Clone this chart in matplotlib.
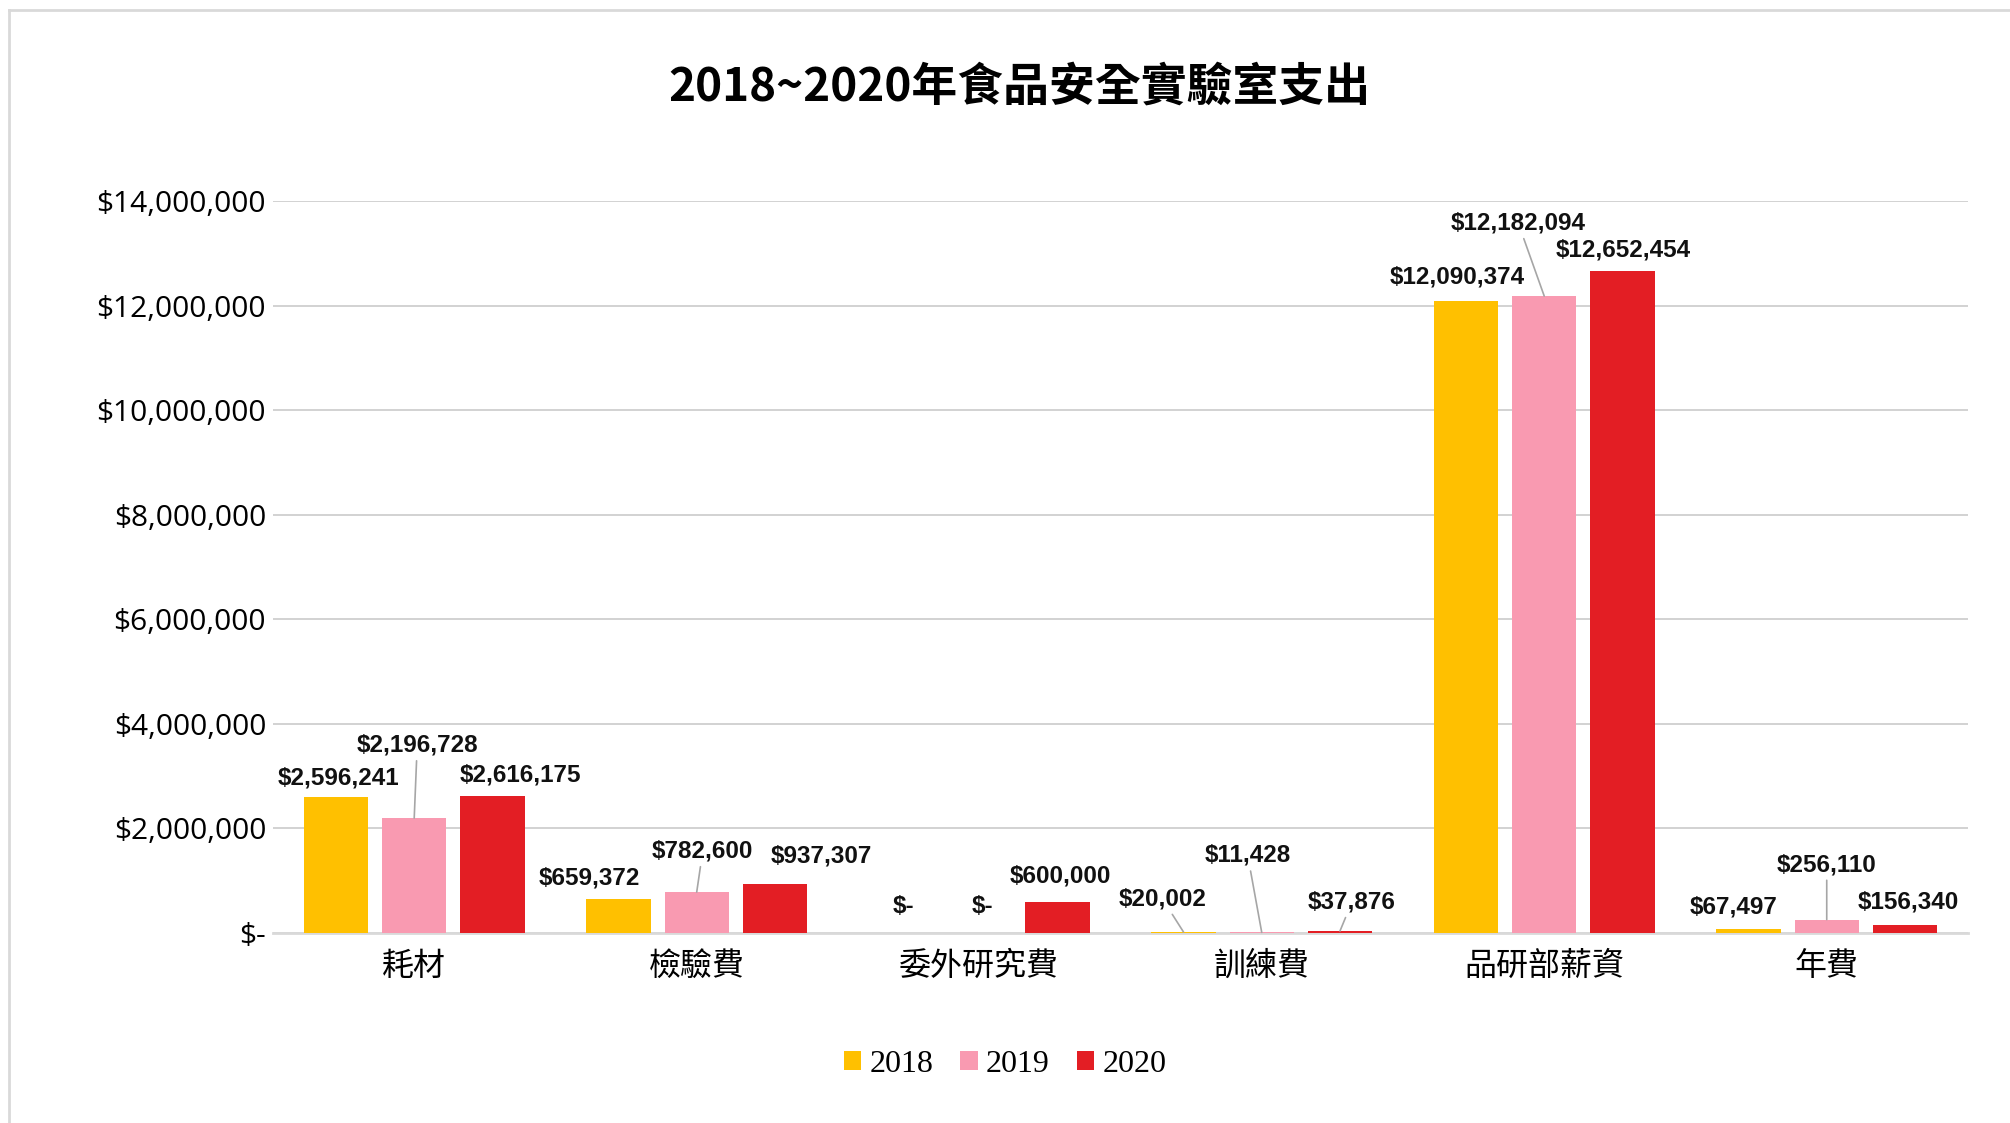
import matplotlib
matplotlib.use('Agg')
import matplotlib.pyplot as plt
from matplotlib.lines import Line2D
from matplotlib.ticker import FuncFormatter
import numpy as np

categories = ['耗材', '檢驗費', '委外研究費', '訓練費', '品研部薪資', '年費']
years = ['2018', '2019', '2020']
spend_2018 = [2596241, 659372, 0, 20002, 12090374, 67497]
spend_2019 = [2196728, 782600, 0, 11428, 12182094, 256110]
spend_2020 = [2616175, 937307, 600000, 37876, 12652454, 156340]
y_ticks = [0, 2000000, 4000000, 6000000, 8000000, 10000000, 12000000, 14000000]

colors = ['#FFC000', '#F99AB1', '#E31E24']

# label offsets (pixels from bar top) and whether a leader line is drawn
label_offsets = [
    [(3, 19, False), (-29, 21, False), (3, 26, False), (-21, 33, True), (-9, 24, False), (-15, 22, False)],
    [(3, 73, True), (6, 41, True), (3, 26, False), (-14, 77, True), (-26, 73, True), (0, 55, True)],
    [(28, 21, False), (46, 28, False), (3, 26, False), (12, 29, True), (1, 21, False), (3, 23, False)],
]

cjk = ['Noto Sans CJK TC', 'DejaVu Sans']
plt.rcParams['font.family'] = cjk

fig = plt.figure(figsize=(20.10, 11.23), dpi=100)
ax = fig.add_axes([0.1358, 0.1692, 0.9791 - 0.1358, 0.821 - 0.1692])

x = np.arange(len(categories))
width = 0.227
pitch = 0.277
series = [spend_2018, spend_2019, spend_2020]

for i, vals in enumerate(series):
    xs = x + (i - 1) * pitch
    ax.bar(xs, vals, width, color=colors[i], label=years[i], zorder=3)
    for j, v in enumerate(vals):
        dx, dy, leader = label_offsets[i][j]
        txt = '$-' if v == 0 else '${:,}'.format(v)
        kw = {}
        if leader:
            kw['arrowprops'] = dict(arrowstyle='-', color='#a6a6a6', lw=1.2,
                                    shrinkA=1, shrinkB=0)
        ax.annotate(txt, xy=(xs[j], v), xytext=(dx, dy), textcoords='offset pixels',
                    ha='center', va='center', fontsize=17.5, fontweight='bold',
                    family=['Liberation Sans Narrow', 'Liberation Sans'], color='#111111',
                    zorder=5, **kw)

ax.set_xlim(-0.5, len(categories) - 0.5)
ax.set_ylim(0, 14000000)
ax.set_yticks(y_ticks)
ax.yaxis.set_major_formatter(FuncFormatter(lambda v, p: '$-' if v == 0 else '${:,.0f}'.format(v)))
ax.set_xticks(x)
ax.set_xticklabels(categories, fontsize=23, fontweight='medium')
ax.tick_params(axis='y', labelsize=21.5, length=0, pad=5)
ax.tick_params(axis='x', length=0, pad=12)
for lab in ax.get_yticklabels():
    lab.set_family(['Open Sans', 'DejaVu Sans'])

ax.grid(axis='y', color='#cfcfcf', lw=1.3, zorder=0)
for s in ['top', 'right', 'left']:
    ax.spines[s].set_visible(False)
ax.spines['bottom'].set_color('#d9d9d9')
ax.spines['bottom'].set_linewidth(2)

fig.text(0.507, 0.922, '2018~2020年食品安全實驗室支出', ha='center', va='center',
         fontsize=33, fontweight='bold', color='black')

leg = fig.legend(loc='center', bbox_to_anchor=(0.5, 0.0525), ncol=3, frameon=False,
                 handlelength=0.55, handleheight=0.55, handletextpad=0.25, columnspacing=0.85,
                 prop={'family': 'Liberation Serif', 'size': 23})

# outer frame lines (top and left)
fig.add_artist(Line2D([0.0043, 1.0], [0.9915, 0.9915], color='#d9d9d9', lw=2, transform=fig.transFigure))
fig.add_artist(Line2D([0.0043, 0.0043], [0.0, 0.9915], color='#d9d9d9', lw=2, transform=fig.transFigure))

fig.savefig('out.png', dpi=100, facecolor='white')
